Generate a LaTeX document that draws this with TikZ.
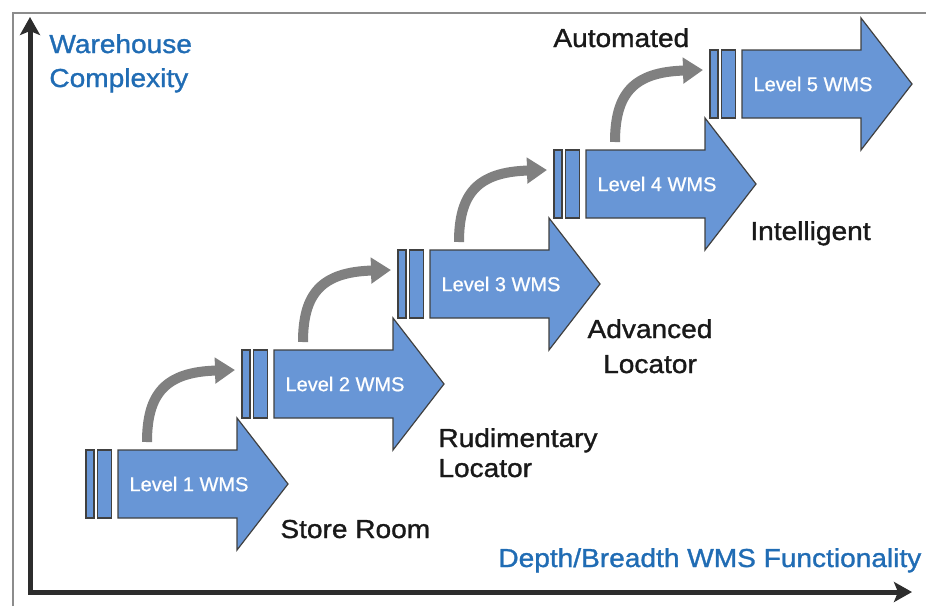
\documentclass[tikz,border=0pt]{standalone}
\usepackage{fontspec}
\setmainfont{Liberation Sans}
\newfontfamily\lblfont[FakeStretch=1.08,FakeBold=1.2]{Liberation Sans}
\newfontfamily\lvlfont[FakeBold=0.8]{Liberation Sans}
\usetikzlibrary{arrows.meta,calc}
\definecolor{lvlblue}{RGB}{104,150,214}
\definecolor{axisblue}{RGB}{32,108,180}
\definecolor{axisdark}{RGB}{45,45,45}
\definecolor{framegray}{RGB}{140,140,140}
\definecolor{curvegray}{RGB}{128,128,128}
\tikzset{
  lvlshape/.style={fill=lvlblue, draw=black!75, line width=0.6pt, line join=miter},
  lvltext/.style={text=white, font=\lvlfont\fontsize{10pt}{12pt}\selectfont, inner sep=0pt},
  stagelbl/.style={text=black!90, font=\lblfont\fontsize{13pt}{15pt}\selectfont, inner sep=0pt},
  axislbl/.style={text=axisblue, font=\lblfont\fontsize{13pt}{17pt}\selectfont, inner sep=0pt},
  axisline/.style={draw=axisdark, line width=2.5pt, {Stealth[length=9pt,width=10pt,inset=2pt]}-{Stealth[length=9pt,width=10pt,inset=2pt]}},
  stepcurve/.style={draw=curvegray, line width=5pt, -{Triangle[length=10pt,width=12.5pt]}}
}
\begin{document}
\begin{tikzpicture}[x=0.5pt,y=-0.5pt]
\useasboundingbox (0,0) rectangle (926,606);
% frame
\draw[framegray, line width=1pt] (13,606) -- (13,13) -- (926,13);
% axes
\coordinate (ytip) at (30,17);
\coordinate (origin) at (30,592);
\coordinate (xtip) at (912,592);
\draw[axisline] (ytip) -- (origin) -- (xtip);
% level arrows
\foreach \i/\t in {0/1,1/2,2/3,3/4,4/5}{
  \pgfmathsetmacro{\X}{118+156*\i}
  \pgfmathsetmacro{\Y}{484-100*\i}
  \draw[lvlshape] (\X-32,\Y-34) rectangle (\X-24,\Y+34);
  \draw[lvlshape] (\X-20.5,\Y-34) rectangle (\X-6.5,\Y+34);
  \draw[lvlshape] (\X,\Y-34) -- (\X+119,\Y-34) -- (\X+119,\Y-66) -- (\X+170,\Y)
     -- (\X+119,\Y+66) -- (\X+119,\Y+34) -- (\X,\Y+34) -- cycle;
  \node[lvltext] (L\t) at (\X+71,\Y) {Level \t\ WMS};
}
% curved step arrows
\foreach \i in {1,2,3,4}{
  \pgfmathsetmacro{\X}{118+156*\i}
  \pgfmathsetmacro{\Y}{484-100*\i}
  \coordinate (s\i) at (\X-127,\Y+58);
  \coordinate (e\i) at (\X-39,\Y-14);
  \draw[stepcurve] (s\i) .. controls ($(s\i)+(0,-48)$) and ($(s\i)+(18,-70)$) .. (e\i);
}
% stage labels
\node[stagelbl, anchor=base west] (store) at (280,538) {Store Room};
\node[stagelbl, anchor=base west, align=left] (rudi) at (438,477) {Rudimentary\\Locator};
\node[stagelbl, anchor=base, align=center, font=\lblfont\fontsize{13pt}{17.5pt}\selectfont] (adv) at (650,373) {Advanced\\Locator};
\node[stagelbl, anchor=base west] (intel) at (750,240) {Intelligent};
\node[stagelbl, anchor=base west] (auto) at (553,47) {Automated};
% axis labels
\node[axislbl, anchor=base west, align=left] (ylbl) at (49,87) {Warehouse\\Complexity};
\node[axislbl, anchor=base west] (xlbl) at (498,567) {Depth/Breadth WMS Functionality};
\end{tikzpicture}
\end{document}
